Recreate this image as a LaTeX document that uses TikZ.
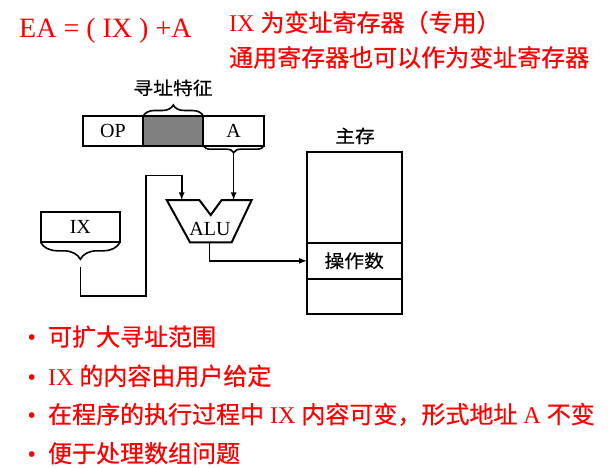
\documentclass[tikz,border=0pt]{standalone}
\usepackage{fontspec}
\setmainfont{Liberation Serif}
\newfontfamily\cjk[FakeBold=0.6]{Noto Sans CJK SC}
\newfontfamily\cjkwide[FakeStretch=1.1,FakeBold=0.4]{Noto Sans CJK SC}
\usetikzlibrary{decorations.pathreplacing}
\newcommand{\zh}[1]{{\cjk #1}}

\tikzset{
  redtext/.style={red, font=\fontsize{24}{28}\selectfont, inner sep=0pt, anchor=base west},
  field/.style={draw, line width=2pt, minimum height=29.7pt, inner sep=0pt, outer sep=0pt, font=\fontsize{20}{24}\selectfont},
  cell/.style={draw, line width=2pt, minimum width=95pt, inner sep=0pt, outer sep=0pt},
  blacklabel/.style={font=\cjkwide\fontsize{18}{20}\selectfont, inner sep=0pt, text height=15pt, text depth=1.5pt},
  wire/.style={line width=1.6pt},
  bracepath/.style={line width=1.6pt, decorate},
}

\begin{document}
\begin{tikzpicture}[x=1pt,y=-1pt,>=latex]
 \useasboundingbox (0,0) rectangle (608,468);
 % formula and notes
 \node[redtext, font=\fontsize{28}{32}\selectfont] (ea) at (19,37.3) {EA = ( IX ) +A};
 \node[redtext] (note1) at (229,31.5) {IX \zh{为变址寄存器（专用）}};
 \node[redtext] (note2) at (229,66.5) {\zh{通用寄存器也可以作为变址寄存器}};
 % instruction
 \node[field, minimum width=60.6pt] (op) at (113,130.85) {OP};
 \node[field, minimum width=60pt, fill=black!50] (mode) at (173.3,130.85) {};
 \node[field, minimum width=60.7pt] (addr) at (233.65,130.85) {A};
 \draw[bracepath, decoration={brace, amplitude=11pt}] (mode.north west) -- (mode.north east);
 \node[blacklabel] (modelabel) at (173,88) {寻址特征};
 \draw[bracepath, decoration={brace, mirror, amplitude=7pt}] (addr.south west) -- (addr.south east);
 \coordinate (addrtip) at (233.65,152.7);
 % index register
 \node[field, minimum width=79.3pt, minimum height=30.6pt] (ix) at (80.35,227) {IX};
 \draw[bracepath, decoration={brace, mirror, amplitude=17pt}] (ix.south west) -- (ix.south east);
 \coordinate (ixtip) at (80.35,260);
 \coordinate (ixjog) at (145.7,296);
 \coordinate (ixbend) at (145.7,175.7);
 % ALU
 \draw[line width=2pt] (166.7,200) -- (199.3,200) -- (210.7,215) -- (221.7,200)
   -- (251.7,200) -- (231.7,242.3) -- (190,242.3) -- cycle;
 \node[font=\fontsize{20}{24}\selectfont, inner sep=0pt] (alu) at (210,229.3) {ALU};
 \coordinate (aluin1) at (181.7,200);
 \coordinate (aluin2) at (233.65,200);
 \coordinate (aluout) at (209.3,242.3);
 % memory
 \node[cell, minimum height=91pt] (memtop) at (354.2,197.2) {};
 \node[cell, minimum height=36.3pt, font=\cjkwide\fontsize{18}{20}\selectfont, text height=15pt, text depth=1.5pt] (opnd) at (354.2,260.85) {操作数};
 \node[cell, minimum height=35pt] (membot) at (354.2,296.5) {};
 \node[blacklabel] (memlabel) at (355,136) {主存};
 % connectors
 \draw[wire,->] (addrtip) -- (aluin2);
 \draw[wire,->,shorten <=6.5pt] (ixtip) |- (ixjog) -- (ixbend) -| (aluin1);
 \draw[wire,->] (aluout) |- (opnd.west);
 % points
 \node[redtext] (b1) at (27.5,345.7) {\textbullet\hspace{12pt}\zh{可扩大寻址范围}};
 \node[redtext] (b2) at (27.5,385) {\textbullet\hspace{12pt}IX \zh{的内容由用户给定}};
 \node[redtext] (b3) at (27.5,423.3) {\textbullet\hspace{12pt}\zh{在程序的执行过程中} IX \zh{内容可变，形式地址} A \zh{不变}};
 \node[redtext] (b4) at (27.5,462.3) {\textbullet\hspace{12pt}\zh{便于处理数组问题}};
\end{tikzpicture}
\end{document}
